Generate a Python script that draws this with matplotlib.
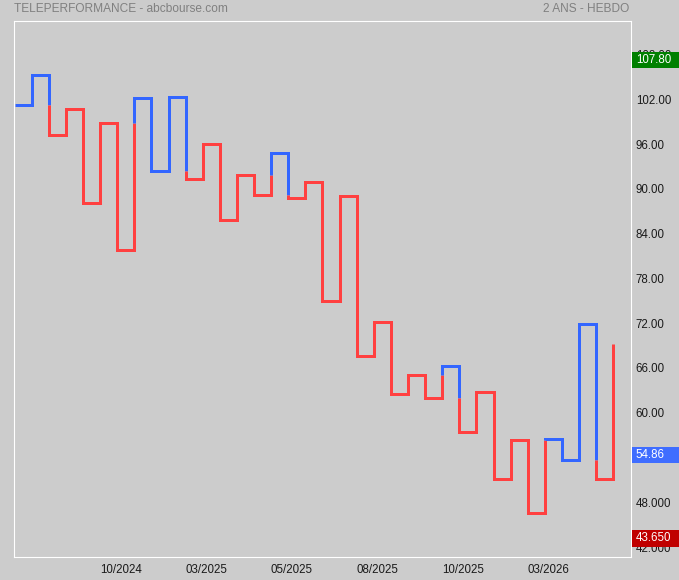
import matplotlib
matplotlib.use("Agg")
import matplotlib.pyplot as plt
from matplotlib.patches import Rectangle
from matplotlib.transforms import blended_transform_factory

plt.rcParams['font.family'] = ['Liberation Sans', 'DejaVu Sans']

# prix des points de retournement du Kagi (hebdo, 2 ans)
kagi_prices = [101.20, 105.26, 97.22, 100.70, 88.10, 98.78, 81.81, 102.13, 92.35,
               102.27, 91.32, 95.97, 85.79, 91.86, 89.14, 94.76, 88.77, 90.88,
               74.93, 89.00, 67.56, 72.12, 62.55, 65.02, 61.98, 66.22, 57.38,
               62.74, 51.08, 56.35, 46.53, 56.48, 53.67, 71.89, 51.12, 69.17]

date_labels = ['10/2024', '03/2025', '05/2025', '08/2025', '10/2025', '03/2026']
date_pos = [6.2, 11.2, 16.2, 21.2, 26.2, 31.2]

y_ticks = [42, 48, 54, 60, 66, 72, 78, 84, 90, 96, 102, 108]
y_tick_labels = ['42.000', '48.000', '54.00', '60.00', '66.00', '72.00', '78.00',
                 '84.00', '90.00', '96.00', '102.00', '108.00']

price_high = 107.80
price_last = 54.86
price_low = 43.650

UP = '#3366ff'
DOWN = '#ff4040'
BG = '#cccccc'

fig = plt.figure(figsize=(6.79, 5.80), dpi=100, facecolor=BG)
ax = fig.add_axes([14 / 679, 23 / 580, 616.7 / 679, 536 / 580])
ax.set_facecolor(BG)

# construction des tracés yin / yang
runs = []
col = UP
pts = [(0, kagi_prices[0]), (1, kagi_prices[0])]
n = len(kagi_prices)
for k in range(1, n):
    a, b = kagi_prices[k - 1], kagi_prices[k]
    t = kagi_prices[k - 2] if k >= 2 else a
    switch = (b > a and col == DOWN and b > t) or (b < a and col == UP and b < t)
    if switch:
        pts.append((k, t))
        runs.append((col, pts))
        col = DOWN if col == UP else UP
        pts = [(k, t)]
    pts.append((k, b))
    if k < n - 1:
        pts.append((k + 1, b))
runs.append((col, pts))

for c, p in runs:
    xs = [q[0] for q in p]
    ys = [q[1] for q in p]
    ax.plot(xs, ys, color=c, lw=2.16, solid_joinstyle='miter', solid_capstyle='butt')

ax.set_xlim(-0.035, 36.02)
ax.set_ylim(40.67, 112.49)

for s in ax.spines.values():
    s.set_color('white')
    s.set_linewidth(0.8)

ax.yaxis.tick_right()
ax.set_yticks(y_ticks)
ax.set_yticklabels(y_tick_labels)
ax.set_xticks(date_pos)
ax.set_xticklabels(date_labels)
ax.tick_params(length=0, labelsize=8.3, labelcolor='#1a1a1a')
ax.tick_params(axis='y', pad=3.6)
ax.tick_params(axis='x', pad=4.8)
for lbl in ax.get_yticklabels():
    lbl.set_horizontalalignment('left')

# étiquettes de prix à droite
tr = blended_transform_factory(ax.transAxes, ax.transData)
for val, fc, txt in [(price_high, '#008000', '107.80'),
                     (price_last, '#3f6dff', '54.86'),
                     (price_low, '#c00000', '43.650')]:
    yc = val - 0.5
    ax.add_patch(Rectangle((1.002, yc - 1.1), 0.08, 2.2, transform=tr,
                           facecolor=fc, edgecolor='none', clip_on=False, zorder=5))
    ax.text(1.0083, yc, txt, transform=tr, color='white', fontsize=8.3,
            va='center', ha='left', zorder=6, clip_on=False)

fig.text(14 / 679, 1 - 8.5 / 580, 'TELEPERFORMANCE - abcbourse.com', color='#808080',
         fontsize=8.6, va='center', ha='left')
fig.text(629.5 / 679, 1 - 8.5 / 580, '2 ANS - HEBDO', color='#808080',
         fontsize=8.6, va='center', ha='right')

fig.savefig('out.png', dpi=100, facecolor=BG)
